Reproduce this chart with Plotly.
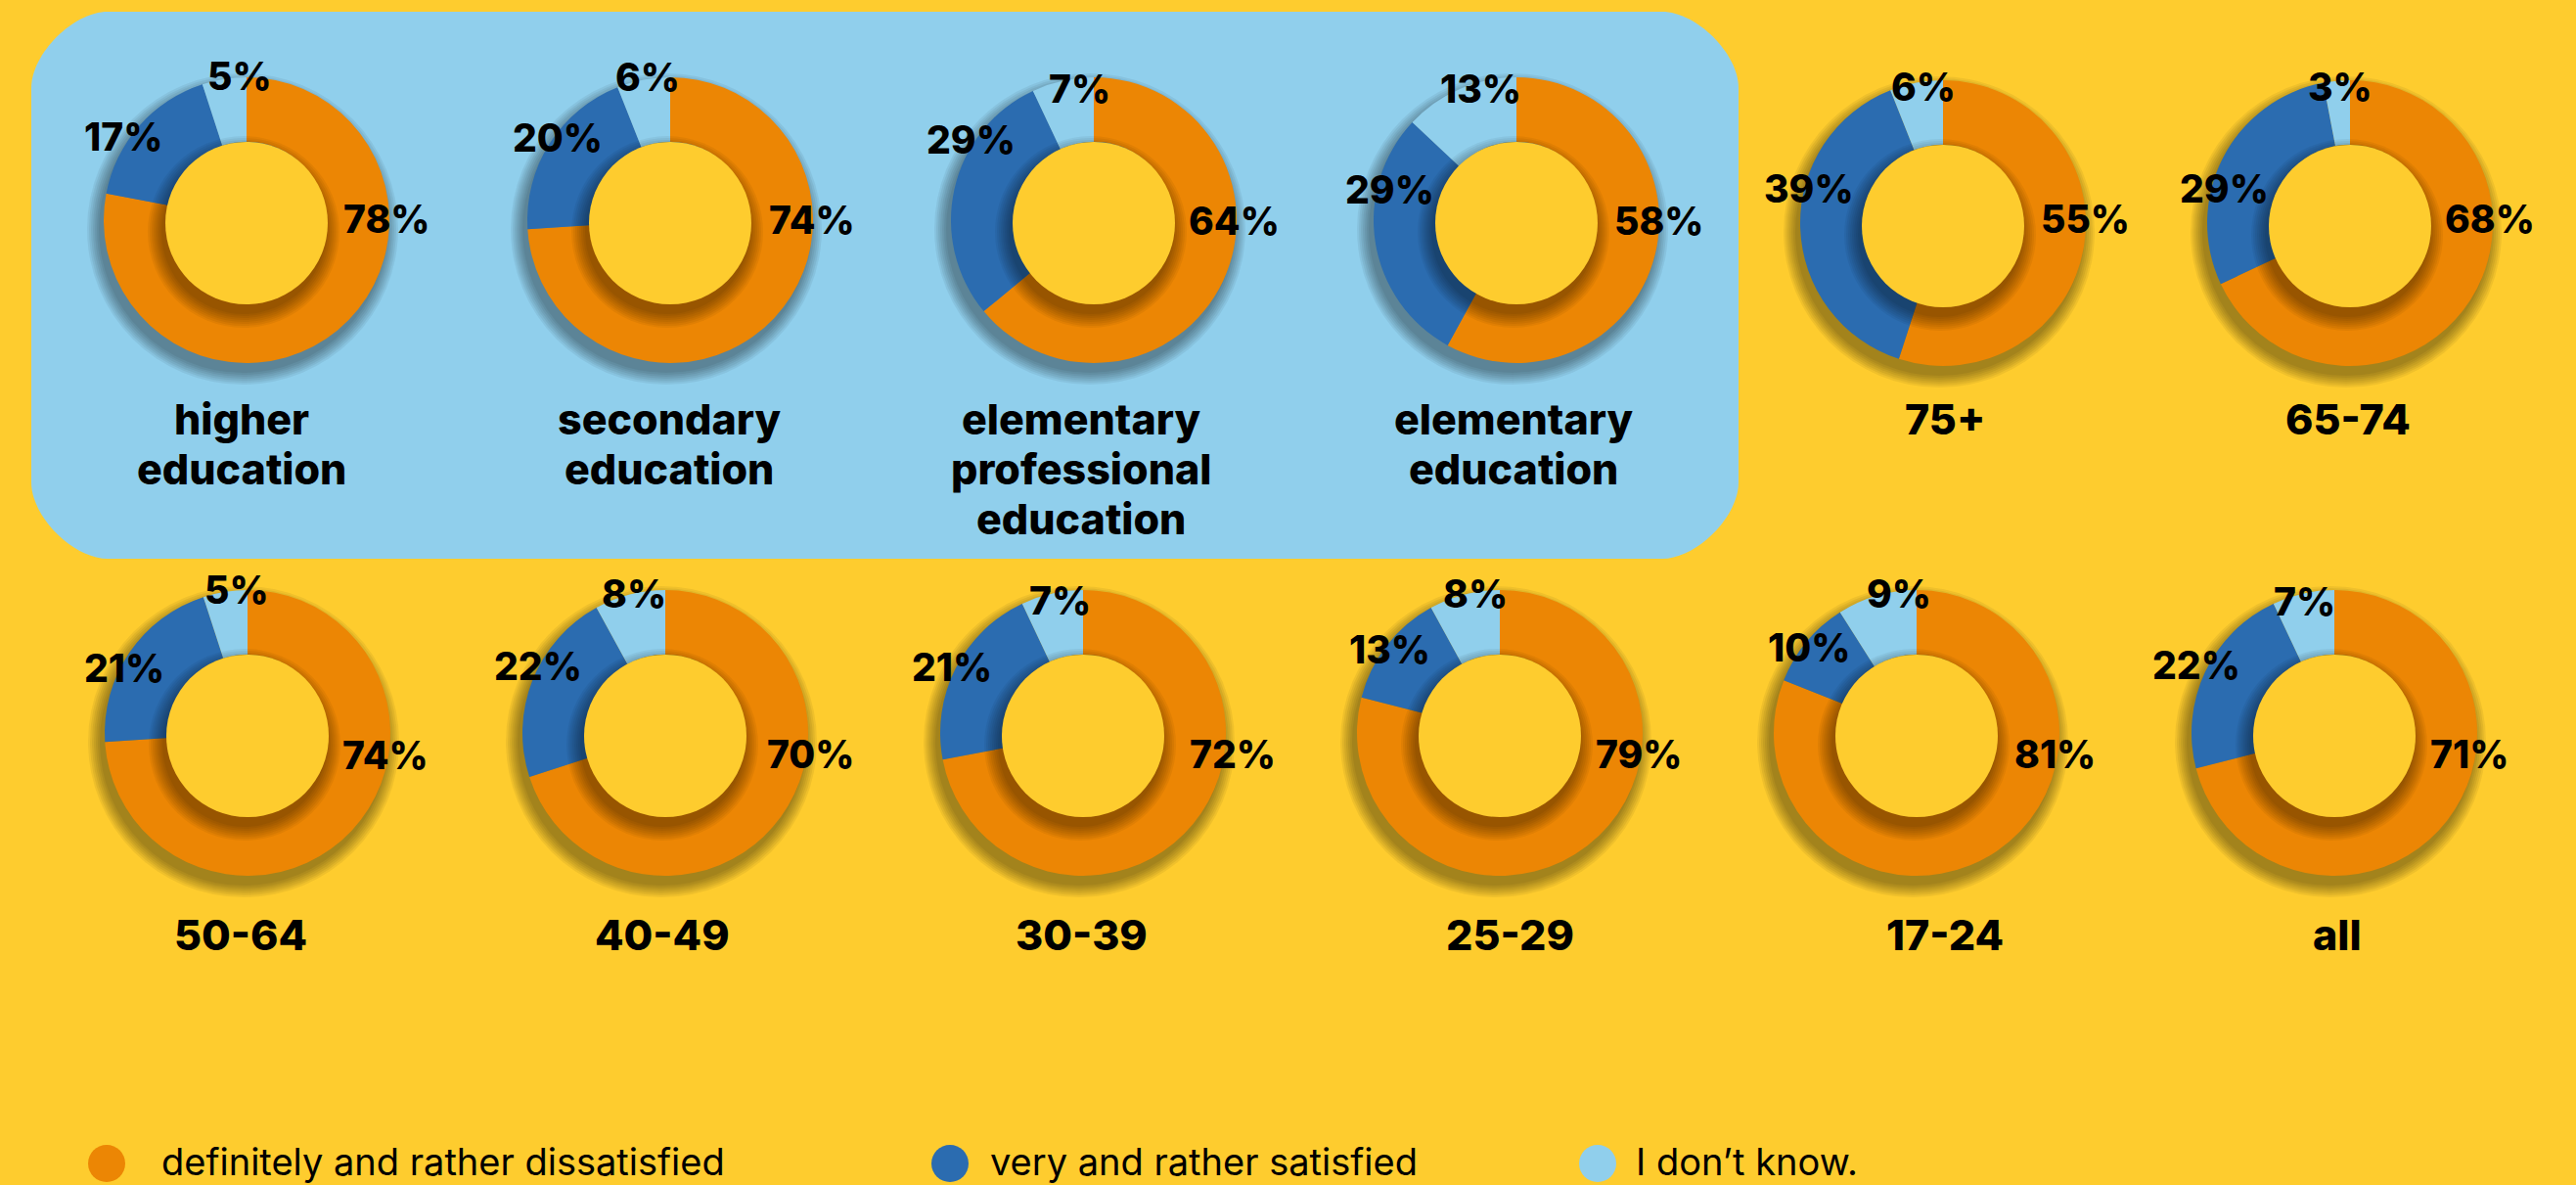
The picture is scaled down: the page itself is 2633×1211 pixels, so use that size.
import plotly.graph_objects as go

# ---- data -------------------------------------------------------------
groups = ["higher<br>education", "secondary<br>education",
          "elementary<br>professional<br>education", "elementary<br>education",
          "75+", "65-74",
          "50-64", "40-49", "30-39", "25-29", "17-24", "all"]
dissatisfied = [78, 74, 64, 58, 55, 68, 74, 70, 72, 79, 81, 71]
satisfied = [17, 20, 29, 29, 39, 29, 21, 22, 21, 13, 10, 22]
dont_know = [5, 6, 7, 13, 6, 3, 5, 8, 7, 8, 9, 7]
legend_labels = ["definitely and rather dissatisfied",
                 "very and rather satisfied",
                 "I don\u2019t know."]

# ---- layout constants (pixels) -------------------------------------
W, H = 2633, 1211
BG = "#FECC2E"
ORANGE = "#EC8604"
BLUE = "#2B6CB0"
LIGHT = "#90CFEC"
R_OUT = 146
R_IN = 83

top_x = [252, 685, 1118, 1550, 1986, 2402]
bot_x = [253, 680, 1107, 1533, 1959, 2386]
top_y, bot_y = 225, 749
centers = [(x, top_y if i < 4 else top_y + 3) for i, x in enumerate(top_x)] + \
          [(x, bot_y) for x in bot_x]

# label offsets from each donut centre: (dissatisfied, satisfied, don't know)
label_offsets = [
    [(143, -2), (-126, -86), (-7, -148)],
    [(145, -1), (-115, -84), (-23, -147)],
    [(143, 0), (-126, -83), (-15, -135)],
    [(145, 0), (-130, -31), (-37, -135)],
    [(145, -5), (-137, -35), (-20, -140)],
    [(143, -5), (-129, -35), (-10, -139)],
    [(141, 22), (-126, -67), (-11, -147)],
    [(148, 21), (-130, -69), (-32, -143)],
    [(153, 21), (-134, -68), (-24, -136)],
    [(142, 21), (-113, -86), (-25, -143)],
    [(141, 21), (-110, -88), (-18, -143)],
    [(138, 21), (-141, -70), (-31, -135)],
]
# centre of the first line of each group name
name_pos = [(247, 428), (684, 428), (1105, 428), (1547, 428), (1988, 428), (2400, 428),
            (246, 955), (677, 955), (1105, 955), (1543, 955), (1988, 955), (2389, 955)]
LINE_GAP = 51


def px(x):
    return x / W


def py(y):
    return 1 - y / H


FAMILY = "Inter, Poppins, sans-serif"

fig = go.Figure()
shapes = []
annotations = []

# rounded panel behind the education group
x0, x1, y0, y1, r = 32, 1777, 12, 571, 78
k = 0.45 * r
path = (
    f"M {px(x0 + r)},{py(y0)} L {px(x1 - r)},{py(y0)} "
    f"C {px(x1 - r + k)},{py(y0)} {px(x1)},{py(y0 + r - k)} {px(x1)},{py(y0 + r)} "
    f"L {px(x1)},{py(y1 - r)} "
    f"C {px(x1)},{py(y1 - r + k)} {px(x1 - r + k)},{py(y1)} {px(x1 - r)},{py(y1)} "
    f"L {px(x0 + r)},{py(y1)} "
    f"C {px(x0 + r - k)},{py(y1)} {px(x0)},{py(y1 - r + k)} {px(x0)},{py(y1 - r)} "
    f"L {px(x0)},{py(y0 + r)} "
    f"C {px(x0)},{py(y0 + r - k)} {px(x0 + r - k)},{py(y0)} {px(x0 + r)},{py(y0)} Z"
)
shapes.append(dict(type="path", path=path, xref="paper", yref="paper",
                   fillcolor=LIGHT, line=dict(width=0), layer="below"))


def circle(cx, cy, rad, color, opacity=1.0, layer="above"):
    return dict(type="circle", xref="paper", yref="paper",
                x0=px(cx - rad), x1=px(cx + rad), y0=py(cy + rad), y1=py(cy - rad),
                fillcolor=color, opacity=opacity, line=dict(width=0), layer=layer)


for i, (cx, cy) in enumerate(centers):
    # soft drop shadow beneath the ring
    for j in range(7):
        shapes.append(circle(cx - 4, cy + 9, R_OUT + 1 + 2 * j, "black", 0.06, "below"))

    fig.add_trace(go.Pie(
        values=[dissatisfied[i], satisfied[i], dont_know[i]],
        labels=legend_labels,
        marker=dict(colors=[ORANGE, BLUE, LIGHT], line=dict(width=0)),
        hole=0.55, sort=False, direction="clockwise", rotation=0,
        textinfo="none", hoverinfo="label+percent", showlegend=False,
        domain=dict(x=[px(cx - R_OUT), px(cx + R_OUT)],
                    y=[py(cy + R_OUT), py(cy - R_OUT)]),
    ))

    # the hole casts a shadow onto the ring, then the yellow centre on top
    for j in range(8):
        shapes.append(circle(cx - 3, cy + 12, R_IN + 1 + 2 * j, "black", 0.05))
    shapes.append(circle(cx, cy + 3, R_IN, BG))

    vals = [dissatisfied[i], satisfied[i], dont_know[i]]
    for v, (dx, dy) in zip(vals, label_offsets[i]):
        annotations.append(dict(
            x=px(cx + dx), y=py(cy + dy), xref="paper", yref="paper",
            text=f"{v}%", showarrow=False, xanchor="center", yanchor="middle",
            font=dict(size=39, family=FAMILY, color="black", weight=800)))

    nx, ny = name_pos[i]
    for li, line in enumerate(groups[i].split("<br>")):
        annotations.append(dict(
            x=px(nx), y=py(ny + li * LINE_GAP), xref="paper", yref="paper",
            text=line, showarrow=False, xanchor="center", yanchor="middle",
            font=dict(size=43, family=FAMILY, color="black", weight=800)))

# legend
legend_marks = [(109, ORANGE), (971, BLUE), (1633, LIGHT)]
legend_text_x = [163, 1010, 1670]
for (mx, col), tx, lab in zip(legend_marks, legend_text_x, legend_labels):
    shapes.append(circle(mx, 1189, 19, col, 1.0, "above"))
    annotations.append(dict(
        x=px(tx), y=py(1187), xref="paper", yref="paper", text=lab,
        showarrow=False, xanchor="left", yanchor="middle",
        font=dict(size=38, family=FAMILY, color="black", weight=400)))

fig.update_layout(
    width=W, height=H, margin=dict(l=0, r=0, t=0, b=0),
    paper_bgcolor=BG, plot_bgcolor=BG,
    shapes=shapes, annotations=annotations,
)

fig.write_html("out.html", config={"displayModeBar": False})
